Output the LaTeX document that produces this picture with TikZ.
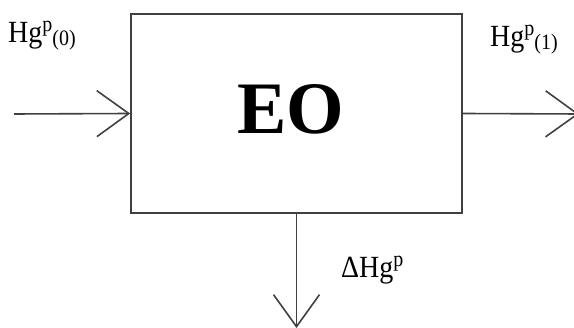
\documentclass[tikz,border=0pt]{standalone}
\usepackage{fontspec}
\setmainfont{Liberation Serif}
\usetikzlibrary{arrows.meta}
\tikzset{
  ln/.style={line width=1.6pt, draw=black!75},
  conn/.style={ln, -{Straight Barb[length=32pt,width=46pt,line width=1.6pt]}},
  lbl/.style={anchor=base west, inner sep=0pt, font=\fontsize{28}{28}\selectfont},
}
\newcommand\mysup[1]{\raisebox{10pt}{\fontsize{20}{20}\selectfont #1}}
\newcommand\mysub[1]{\raisebox{-3pt}{\fontsize{20}{20}\selectfont #1}}
\newcommand\talltext[1]{\scalebox{1}[1.1]{#1}}
\begin{document}
\begin{tikzpicture}[x=1pt,y=-1pt]
\useasboundingbox (0,0) rectangle (574,328);
\node[ln, draw, minimum width=331pt, minimum height=199pt, inner sep=0pt] (eo) at (296.5,113.5) {};
\node[anchor=base, inner sep=0pt, font=\bfseries\fontsize{74}{74}\selectfont] (eot) at (290.5,134) {EO};
\coordinate (in) at (14,114);
\coordinate (out) at (579,114);
\coordinate (loss) at (296.5,328);
\draw[conn] (in) -- (eo.west);
\draw[conn] (eo.east) -- (out);
\draw[conn] (eo.south) -- (loss);
\node[lbl] (l0) at (8,42.3) {\talltext{Hg\mysup{p}\mysub{(0)}}};
\node[lbl] (l1) at (490,46.7) {\talltext{Hg\mysup{p}\mysub{(1)}}};
\node[lbl] (l2) at (341,277.7) {\talltext{ΔHg\mysup{p}}};
\end{tikzpicture}
\end{document}
